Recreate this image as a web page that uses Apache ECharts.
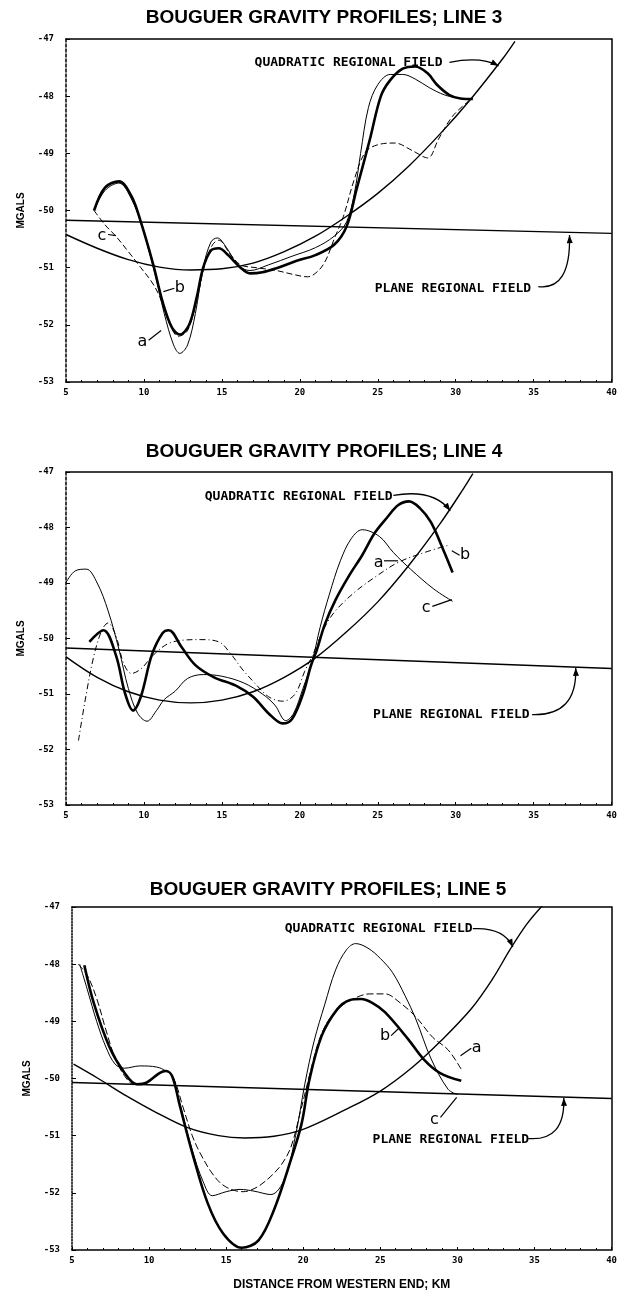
<!DOCTYPE html>
<html>
<head>
<meta charset="utf-8">
<script src="https://cdn.jsdelivr.net/npm/echarts@6/dist/echarts.min.js"></script>
<style>
  html, body { margin: 0; background: #fff; }
  #chart { width: 620px; height: 1294px; }
</style>
</head>
<body>
<div id="chart"></div>
<script>
// axis ticks
const distanceTicks = [5, 10, 15, 20, 25, 30, 35, 40];
const mgalTicks = [-53, -52, -51, -50, -49, -48, -47];
const lineNames = ["LINE 3", "LINE 4", "LINE 5"];

// line 3  [km, mgal]
const line3Plane = [[5, -50.17], [40, -50.40]];
const line3Quadratic = [[5, -50.42], [7, -50.66], [9, -50.86], [11, -50.99], [13, -51.04], [15, -51.02],
  [17, -50.92], [19, -50.72], [21, -50.45], [23, -50.1], [25, -49.7], [27, -49.22], [29, -48.66],
  [31, -48.04], [33, -47.35], [33.8, -47.04]];
const line3A = [[6.8, -50.0], [7.5, -49.65], [8.4, -49.52], [9.2, -49.8], [9.9, -50.3], [10.7, -51.1],
  [11.3, -51.8], [11.9, -52.35], [12.3, -52.5], [12.8, -52.35], [13.3, -51.8], [13.8, -51.0],
  [14.3, -50.55], [14.7, -50.48], [15.3, -50.65], [16.0, -50.95], [16.8, -51.05], [18.0, -50.95],
  [19.5, -50.8], [21.0, -50.65], [22.2, -50.45], [23.0, -50.2], [23.5, -49.7], [23.9, -49.0],
  [24.4, -48.2], [25.0, -47.8], [25.8, -47.62], [26.6, -47.62], [27.4, -47.7], [28.3, -47.85],
  [29.3, -47.98], [30.3, -48.04]];
const line3B = [[6.8, -50.0], [7.5, -49.6], [8.4, -49.49], [9.2, -49.75], [9.8, -50.2], [10.6, -50.95],
  [11.2, -51.6], [11.8, -52.05], [12.3, -52.17], [12.9, -52.0], [13.4, -51.5], [13.8, -51.0],
  [14.3, -50.7], [14.8, -50.66], [15.4, -50.78], [16.2, -51.0], [16.8, -51.1], [17.6, -51.08],
  [18.6, -51.0], [19.8, -50.88], [21.0, -50.78], [22.2, -50.6], [23.0, -50.28], [23.65, -49.62],
  [24.5, -48.75], [25.2, -48.0], [25.8, -47.72], [26.6, -47.52], [27.4, -47.48], [28.2, -47.6],
  [28.8, -47.8], [29.6, -47.98], [30.3, -48.04], [31.1, -48.05]];
const line3C = [[6.8, -50.0], [7.5, -50.25], [8.2, -50.45], [9.0, -50.72], [9.8, -51.0], [10.5, -51.25],
  [11.0, -51.5], [11.6, -51.95], [12.2, -52.2], [12.8, -52.1], [13.4, -51.55], [13.9, -50.95],
  [14.4, -50.6], [14.8, -50.52], [15.5, -50.75], [16.2, -50.95], [17.2, -51.0], [18.5, -51.05],
  [19.6, -51.12], [20.5, -51.16], [21.2, -51.05], [21.7, -50.85], [22.2, -50.5], [22.8, -50.1],
  [23.5, -49.45], [24.2, -48.98], [25.0, -48.85], [26.1, -48.82], [27.2, -48.95], [28.2, -49.08],
  [28.9, -48.75], [29.8, -48.35], [30.9, -48.07]];

// line 4
const line4Plane = [[5, -50.17], [40, -50.54]];
const line4Quadratic = [[5, -50.33], [7, -50.7], [9, -50.96], [11, -51.11], [13, -51.16], [15, -51.11],
  [17, -50.96], [19, -50.7], [21, -50.35], [23, -49.88], [25, -49.34], [27, -48.68], [29, -47.93],
  [30.5, -47.3], [31.1, -47.03]];
const line4A = [[5.8, -51.84], [6.3, -51.0], [6.8, -50.3], [7.3, -49.85], [7.7, -49.72], [8.2, -49.95],
  [8.7, -50.45], [9.2, -50.63], [9.8, -50.55], [10.6, -50.3], [11.5, -50.1], [12.5, -50.03],
  [13.6, -50.02], [14.8, -50.06], [15.5, -50.25], [16.3, -50.55], [17.1, -50.8], [18.0, -51.05],
  [18.9, -51.13], [19.7, -51.0], [20.3, -50.6], [20.9, -50.25], [21.5, -49.85], [22.2, -49.53],
  [23.5, -49.17], [24.9, -48.88], [26.3, -48.63], [28.0, -48.45], [29.65, -48.31]];
const line4B = [[6.5, -50.06], [7.4, -49.85], [8.2, -50.3], [8.8, -51.0], [9.3, -51.3], [9.8, -51.05],
  [10.5, -50.3], [11.2, -49.9], [11.6, -49.85], [12.4, -50.15], [13.3, -50.48], [14.5, -50.7],
  [15.9, -50.85], [17.0, -51.05], [18.0, -51.35], [18.9, -51.53], [19.5, -51.45], [20.2, -51.0],
  [20.7, -50.5], [21.1, -50.2], [21.6, -49.75], [22.3, -49.3], [23.2, -48.85], [24.0, -48.5],
  [24.8, -48.1], [25.6, -47.82], [26.3, -47.6], [27.0, -47.53], [27.7, -47.65], [28.4, -47.9],
  [29.2, -48.4], [29.8, -48.81]];
const line4C = [[5.0, -48.99], [5.6, -48.78], [6.3, -48.75], [7.0, -49.0], [7.7, -49.5], [8.4, -50.2],
  [9.0, -50.9], [9.6, -51.35], [10.2, -51.49], [10.8, -51.3], [11.3, -51.1], [12.0, -50.95],
  [12.8, -50.72], [13.8, -50.65], [15.0, -50.68], [16.4, -50.8], [17.6, -51.0], [18.4, -51.2],
  [19.1, -51.48], [19.6, -51.35], [20.2, -50.9], [20.8, -50.4], [21.3, -49.8], [21.9, -49.2],
  [22.6, -48.6], [23.3, -48.2], [24.0, -48.04], [25.1, -48.16], [26.0, -48.45], [27.1, -48.75],
  [28.6, -49.11], [29.8, -49.33]];

// line 5
const line5Plane = [[5, -50.07], [40, -50.35]];
const line5Quadratic = [[5.1, -49.75], [6.7, -50.0], [8.5, -50.3], [10.5, -50.6], [12.5, -50.86],
  [14.5, -51.0], [16.2, -51.04], [18.1, -51.01], [19.9, -50.9], [22.7, -50.55], [25, -50.22],
  [27.1, -49.8], [28.9, -49.35], [30.9, -48.78], [32.3, -48.25], [33.4, -47.75], [34.5, -47.3],
  [35.6, -46.95]];
const line5A = [[5.4, -48.0], [6.0, -48.2], [6.6, -48.6], [7.2, -49.15], [7.8, -49.65], [8.4, -49.95],
  [9.0, -50.1], [9.8, -50.07], [10.7, -49.9], [11.1, -49.87], [11.6, -50.0], [12.2, -50.5],
  [12.8, -51.0], [13.3, -51.3], [14.2, -51.7], [15.0, -51.9], [16.1, -51.98], [17.0, -51.9],
  [17.9, -51.71], [18.6, -51.5], [19.2, -51.2], [19.8, -50.6], [20.4, -49.95], [21.0, -49.35],
  [21.6, -49.0], [22.4, -48.75], [23.3, -48.6], [24.3, -48.52], [25.3, -48.52], [26.3, -48.68],
  [27.3, -48.92], [28.4, -49.28], [29.4, -49.5], [30.25, -49.84]];
const line5B = [[5.8, -48.02], [6.4, -48.67], [7.4, -49.43], [8.4, -49.9], [9.2, -50.1], [9.85, -50.07],
  [10.7, -49.9], [11.1, -49.87], [11.5, -49.96], [12.0, -50.48], [12.8, -51.3], [13.8, -52.18],
  [14.8, -52.71], [16.0, -52.96], [17.1, -52.83], [18.1, -52.3], [19.2, -51.42], [19.9, -50.78],
  [20.4, -50.02], [21.2, -49.25], [22.2, -48.79], [23.0, -48.63], [23.75, -48.61], [24.5, -48.68],
  [25.3, -48.84], [26.8, -49.31], [27.8, -49.66], [28.85, -49.9], [30.25, -50.04]];
const line5C = [[5.5, -48.0], [6.0, -48.45], [6.6, -49.0], [7.2, -49.45], [7.8, -49.75], [8.4, -49.82],
  [9.4, -49.78], [10.5, -49.8], [11.1, -49.87], [11.5, -49.96], [12.0, -50.45], [12.8, -51.25],
  [13.5, -51.8], [14.1, -52.05], [15.0, -51.98], [15.9, -51.94], [16.8, -51.97], [17.9, -52.03],
  [18.8, -51.75], [19.5, -51.0], [20.1, -50.1], [20.7, -49.35], [21.4, -48.7], [22.1, -48.1],
  [22.8, -47.75], [23.4, -47.64], [24.2, -47.72], [25.0, -47.9], [25.8, -48.15], [26.6, -48.55],
  [27.3, -48.96], [28.3, -49.66], [29.4, -50.19], [30.0, -50.28]];

const panels = [
  { plane: line3Plane, quad: line3Quadratic, a: line3A, b: line3B, c: line3C, aType: "solid", cType: [6, 3] },
  { plane: line4Plane, quad: line4Quadratic, a: line4A, b: line4B, c: line4C, aType: [6, 3, 1, 3], cType: "solid" },
  { plane: line5Plane, quad: line5Quadratic, a: line5A, b: line5B, c: line5C, aType: [7, 3], cType: "solid" },
];

const grids = [
  { left: 66, top: 39, width: 548, height: 343 },
  { left: 66, top: 472, width: 550, height: 333 },
  { left: 72, top: 907, width: 546, height: 343 },
];
const titleY = [18, 452, 890];
const titleX = [324, 324, 328];

const tickFont = { color: "#000", fontSize: 9, fontWeight: "bold", fontFamily: "DejaVu Sans Mono" };
const xMin = distanceTicks[0], xMax = distanceTicks[distanceTicks.length - 1];
const yMin = mgalTicks[0], yMax = mgalTicks[mgalTicks.length - 1];

const xAxes = [], yAxes = [], series = [];
grids.forEach((g, i) => {
  xAxes.push({
    type: "value", gridIndex: i, min: xMin, max: xMax, interval: distanceTicks[1] - distanceTicks[0],
    axisLine: { lineStyle: { color: "#000", width: 1.5 } },
    axisTick: { inside: true, length: 3, lineStyle: { color: "#000" } },
    minorTick: { show: true, splitNumber: 5, length: 2, lineStyle: { color: "#000" } },
    splitLine: { show: false },
    axisLabel: Object.assign({ margin: 6 }, tickFont),
    name: i === 2 ? "DISTANCE FROM WESTERN END; KM" : "",
    nameLocation: "middle", nameGap: 29,
    nameTextStyle: { color: "#000", fontSize: 12, fontWeight: "bold", fontFamily: "Liberation Sans" },
  });
  yAxes.push({
    type: "value", gridIndex: i, min: yMin, max: yMax, interval: 1,
    axisLine: { lineStyle: { color: "#000", width: 1.5, type: i === 2 ? "dotted" : [3, 2] } },
    axisTick: { inside: true, length: 4, lineStyle: { color: "#000" } },
    splitLine: { show: false },
    axisLabel: Object.assign({ margin: 12 }, tickFont),
    name: "MGALS", nameLocation: "middle", nameGap: 40, nameRotate: 90,
    nameTextStyle: { color: "#000", fontSize: 10, fontWeight: "bold", fontFamily: "Liberation Sans" },
  });
});
// frame: top and right sides
grids.forEach((g, i) => {
  xAxes.push({
    type: "value", gridIndex: i, position: "top", min: xMin, max: xMax,
    axisLine: { lineStyle: { color: "#000", width: 1.5 } },
    axisTick: { show: false }, axisLabel: { show: false }, splitLine: { show: false },
  });
  yAxes.push({
    type: "value", gridIndex: i, position: "right", min: yMin, max: yMax,
    axisLine: { lineStyle: { color: "#000", width: 1.5 } },
    axisTick: { show: false }, axisLabel: { show: false }, splitLine: { show: false },
  });
});

function profile(i, name, data, width, type, smooth) {
  return {
    name, type: "line", xAxisIndex: i, yAxisIndex: i, data,
    symbol: "none", smooth: smooth ? 0.35 : false, silent: true,
    lineStyle: { color: "#000", width, type },
  };
}
panels.forEach((p, i) => {
  series.push(profile(i, "plane", p.plane, 1.4, "solid", false));
  series.push(profile(i, "quadratic", p.quad, 1.4, "solid", true));
  series.push(profile(i, "a", p.a, 1, p.aType, true));
  series.push(profile(i, "b", p.b, 2.6, "solid", true));
  series.push(profile(i, "c", p.c, 1, p.cType, true));
});

const chart = echarts.init(document.getElementById("chart"));
chart.setOption({
  animation: false,
  backgroundColor: "#fff",
  grid: grids,
  xAxis: xAxes,
  yAxis: yAxes,
  series,
});

// annotations, placed in data coordinates
const notes = [
  {
    quad: { at: [17.1, -47.41], from: [29.6, -47.41], ctrl: [31.6, -47.3], to: [32.75, -47.47] },
    plane: { at: [24.8, -51.36], from: [35.3, -51.33], ctrl: [37.4, -51.4], to: [37.3, -50.43] },
    letters: [
      { t: "c", at: [7.3, -50.45], from: [7.7, -50.42], to: [8.2, -50.44] },
      { t: "b", at: [12.3, -51.36], from: [11.95, -51.36], to: [11.25, -51.42] },
      { t: "a", at: [9.9, -52.3], from: [10.3, -52.27], to: [11.1, -52.1] },
    ],
  },
  {
    quad: { at: [13.9, -47.45], from: [26.0, -47.42], ctrl: [28.6, -47.3], to: [29.65, -47.7] },
    plane: { at: [24.7, -51.37], from: [34.9, -51.37], ctrl: [37.8, -51.4], to: [37.7, -50.53] },
    letters: [
      { t: "a", at: [25.05, -48.63], from: [25.4, -48.6], to: [26.3, -48.6] },
      { t: "b", at: [30.6, -48.5], from: [30.25, -48.5], to: [29.75, -48.42] },
      { t: "c", at: [28.1, -49.44], from: [28.5, -49.42], to: [29.75, -49.3] },
    ],
  },
  {
    quad: { at: [18.8, -47.38], from: [31.0, -47.38], ctrl: [33.0, -47.35], to: [33.6, -47.7] },
    plane: { at: [24.5, -51.07], from: [34.6, -51.05], ctrl: [37.0, -51.1], to: [36.9, -50.34] },
    letters: [
      { t: "b", at: [25.3, -49.25], from: [25.7, -49.25], to: [26.2, -49.12] },
      { t: "a", at: [31.25, -49.47], from: [30.9, -49.47], to: [30.2, -49.6] },
      { t: "c", at: [28.5, -50.72], from: [28.9, -50.68], to: [29.95, -50.33] },
    ],
  },
];

const toPx = (i, pt) => chart.convertToPixel({ xAxisIndex: i, yAxisIndex: i }, pt);
const g = [];
function text(x, y, str, font, align) {
  g.push({ type: "text", x, y, silent: true,
    style: { text: str, font, fill: "#000", align: align || "left", verticalAlign: "middle" } });
}
function arrow(i, a) {
  const p0 = toPx(i, a.from), c = toPx(i, a.ctrl), p1 = toPx(i, a.to);
  g.push({ type: "bezierCurve", silent: true,
    shape: { x1: p0[0], y1: p0[1], cpx1: c[0], cpy1: c[1], x2: p1[0], y2: p1[1] },
    style: { stroke: "#000", lineWidth: 1.3, fill: null } });
  let dx = p1[0] - c[0], dy = p1[1] - c[1];
  const len = Math.hypot(dx, dy) || 1;
  dx /= len; dy /= len;
  const bx = p1[0] - dx * 8, by = p1[1] - dy * 8;
  g.push({ type: "polygon", silent: true,
    shape: { points: [[p1[0], p1[1]], [bx - dy * 3, by + dx * 3], [bx + dy * 3, by - dx * 3]] },
    style: { fill: "#000" } });
}

lineNames.forEach((n, i) => {
  text(titleX[i], titleY[i], "BOUGUER GRAVITY PROFILES; " + n, 'bold 19px "Liberation Sans"', "center");
});
notes.forEach((n, i) => {
  const q = toPx(i, n.quad.at);
  text(q[0], q[1], "QUADRATIC REGIONAL FIELD", 'bold 13px "DejaVu Sans Mono"');
  arrow(i, n.quad);
  const p = toPx(i, n.plane.at);
  text(p[0], p[1], "PLANE REGIONAL FIELD", 'bold 13px "DejaVu Sans Mono"');
  arrow(i, n.plane);
  n.letters.forEach((l) => {
    const at = toPx(i, l.at), f = toPx(i, l.from), t = toPx(i, l.to);
    text(at[0], at[1], l.t, '16px "DejaVu Sans"', "center");
    g.push({ type: "line", silent: true,
      shape: { x1: f[0], y1: f[1], x2: t[0], y2: t[1] },
      style: { stroke: "#000", lineWidth: 1.2 } });
  });
});
chart.setOption({ graphic: { elements: g } });
</script>
</body>
</html>
